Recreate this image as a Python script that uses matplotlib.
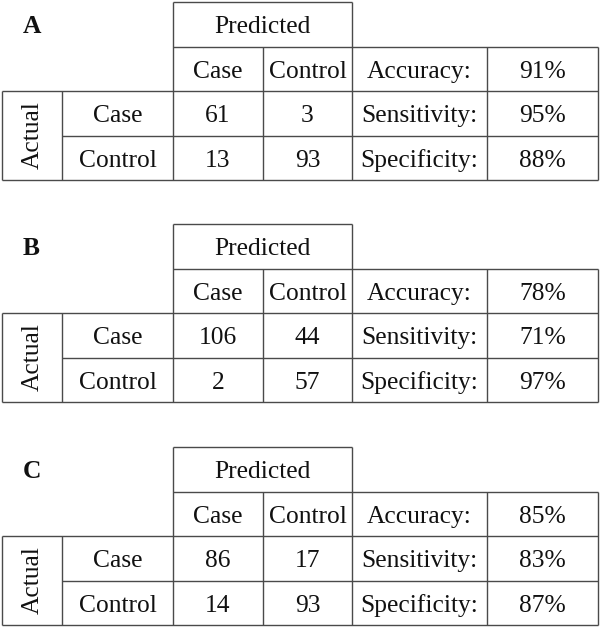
import matplotlib
matplotlib.use("Agg")
import matplotlib.pyplot as plt

# ---- data ----
panel_labels = ["A", "B", "C"]
class_labels = ["Case", "Control"]
confusion = [
    [[61, 3], [13, 93]],
    [[106, 44], [2, 57]],
    [[86, 17], [14, 93]],
]
metric_names = ["Accuracy:", "Sensitivity:", "Specificity:"]
accuracy = [91, 78, 85]
sensitivity = [95, 71, 83]
specificity = [88, 97, 87]

# ---- layout (pixels) ----
W, H = 600, 627
panel_tops = [2, 224, 447]
row_h = 44.5
xs = [2, 62, 173, 263, 352, 487, 598]

plt.rcParams['font.family'] = ['Liberation Serif', 'DejaVu Serif']

fig = plt.figure(figsize=(W / 100, H / 100), dpi=100)
ax = fig.add_axes([0, 0, 1, 1])
ax.set_xlim(0, W)
ax.set_ylim(H, 0)
ax.axis('off')

lc = '#4a4a4a'
lw = 1.0
fs = 18.4
tc = '#111111'
boff = 9.0  # baseline offset below cell centre (px)


def hline(y, x0, x1):
    ax.plot([x0, x1], [y, y], color=lc, lw=lw, solid_capstyle='butt')


def vline(x, y0, y1):
    ax.plot([x, x], [y0, y1], color=lc, lw=lw, solid_capstyle='butt')


def txt(x, y, s, **kw):
    ax.text(x, y + boff, s, ha='center', va='baseline', fontsize=fs, color=tc, **kw)


for p in range(3):
    t = panel_tops[p]
    y0, y1, y2, y3, y4 = [t + i * row_h for i in range(5)]
    # horizontal lines
    hline(y0, xs[2], xs[4])
    hline(y1, xs[2], xs[6])
    hline(y2, xs[0], xs[6])
    hline(y3, xs[1], xs[6])
    hline(y4, xs[0], xs[6])
    # vertical lines
    vline(xs[0], y2, y4)
    vline(xs[1], y2, y4)
    vline(xs[2], y0, y4)
    vline(xs[3], y1, y4)
    vline(xs[4], y0, y4)
    vline(xs[5], y1, y4)
    vline(xs[6], y1, y4)

    # panel letter
    ax.text(23, (y0 + y1) / 2 + boff, panel_labels[p], ha='left', va='baseline',
            fontsize=fs, fontweight='bold', color=tc)
    # header
    txt((xs[2] + xs[4]) / 2, (y0 + y1) / 2, "Predicted")
    txt((xs[2] + xs[3]) / 2, (y1 + y2) / 2, class_labels[0])
    txt((xs[3] + xs[4]) / 2, (y1 + y2) / 2, class_labels[1])
    # Actual (rotated)
    ax.text((xs[0] + xs[1]) / 2 + 1, (y2 + y4) / 2, "Actual", rotation=90,
            ha='center', va='center', fontsize=fs, color=tc)
    rows_y = [(y2 + y3) / 2, (y3 + y4) / 2]
    for r in range(2):
        txt((xs[1] + xs[2]) / 2, rows_y[r], class_labels[r])
        txt((xs[2] + xs[3]) / 2, rows_y[r], str(confusion[p][r][0]))
        txt((xs[3] + xs[4]) / 2, rows_y[r], str(confusion[p][r][1]))
    # metrics
    metric_vals = [accuracy[p], sensitivity[p], specificity[p]]
    metric_y = [(y1 + y2) / 2, rows_y[0], rows_y[1]]
    for name, val, my in zip(metric_names, metric_vals, metric_y):
        txt((xs[4] + xs[5]) / 2, my, name)
        txt((xs[5] + xs[6]) / 2, my, f"{val}%")

fig.savefig("out.png", dpi=100)
